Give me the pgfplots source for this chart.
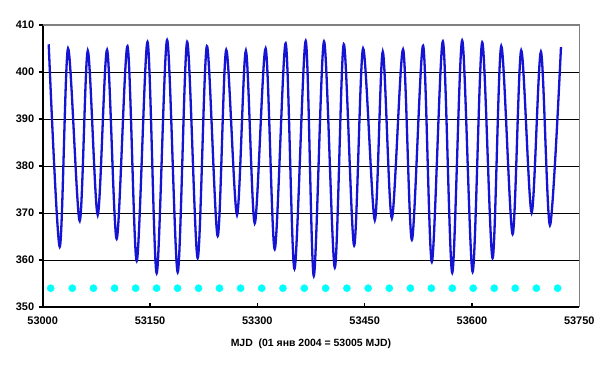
\documentclass[border=0pt]{standalone}
\usepackage{pgfplots}
\pgfplotsset{compat=1.18}
\usepackage{fontspec}
\setmainfont{Liberation Sans}
\definecolor{moonblue}{RGB}{20,20,210}
\definecolor{fmcyan}{RGB}{0,255,255}
\definecolor{boxgray}{RGB}{128,128,128}
\begin{document}
\begin{tikzpicture}
\useasboundingbox (-42.7bp,-63bp) rectangle (568.3bp,307bp);
\begin{axis}[
  scale only axis, width=536.6bp, height=282bp,
  xmin=53000, xmax=53750, ymin=350, ymax=410,
  xtick={53000,53150,53300,53450,53600,53750},
  ytick={350,360,370,380,390,400,410},
  scaled x ticks=false,
  xticklabels={53000,53150,53300,53450,53600,53750},
  axis x line*=bottom, axis y line*=left,
  axis line style={black, line width=2.2bp, -},
  ymajorgrids, grid style={black, line width=0.9bp},
  tick align=inside, major tick length=4bp,
  tick style={black, line width=1.2bp},
  y tick style={xshift=-4bp},
  /pgf/number format/assume math mode=true,
  /pgf/number format/1000 sep={},
  ticklabel style={font=\fontsize{11}{13}\selectfont\bfseries},
  yticklabel style={xshift=-5bp},
  xticklabel style={yshift=-6bp},
  xlabel={MJD\ \ (01 янв 2004 = 53005 MJD)},
  xlabel style={font=\fontsize{10.5}{12}\selectfont\bfseries, at={(axis description cs:0.5,0)}, anchor=center, yshift=-37bp},
  clip=false,
]
\addplot[moonblue, line width=2.3bp, smooth, tension=0.5] coordinates {
(53008.4,405.9)
(53023.8,362.8)
(53035.4,405.0)
(53051.7,368.3)
(53063.0,404.5)
(53076.9,369.6)
(53090.0,404.7)
(53103.4,364.5)
(53118.5,405.5)
(53131.4,359.8)
(53146.5,406.4)
(53159.3,357.2)
(53173.9,406.8)
(53188.7,357.4)
(53201.9,406.4)
(53216.6,360.4)
(53229.5,405.5)
(53244.6,365.1)
(53256.5,404.7)
(53271.6,369.6)
(53284.0,404.5)
(53296.4,367.8)
(53311.6,405.0)
(53324.3,362.3)
(53339.6,406.1)
(53351.9,358.1)
(53367.6,406.6)
(53378.9,356.6)
(53393.2,406.5)
(53408.3,358.4)
(53420.8,405.9)
(53435.3,363.1)
(53447.8,405.0)
(53464.2,368.5)
(53475.3,404.3)
(53488.0,368.9)
(53503.7,404.8)
(53516.0,364.3)
(53531.7,405.6)
(53543.9,359.6)
(53559.3,406.5)
(53572.4,357.3)
(53586.3,406.7)
(53600.9,357.5)
(53614.3,406.3)
(53628.8,360.4)
(53640.9,405.5)
(53656.8,365.5)
(53668.8,404.6)
(53683.4,370.1)
(53696.4,404.3)
(53709.0,367.4)
(53724.4,405.3)
};
\addplot[only marks, mark=*, mark size=3.6bp, fmcyan, mark options={draw=fmcyan, fill=fmcyan}] coordinates {
(53011.2,354) (53041.4,354) (53070.9,354) (53100.5,354) (53129.9,354)
(53159.2,354) (53188.5,354) (53217.8,354) (53247.1,354) (53276.6,354)
(53306.1,354) (53335.8,354) (53365.6,354) (53395.4,354) (53425.2,354)
(53454.9,354) (53484.4,354) (53513.9,354) (53543.2,354) (53572.5,354)
(53601.7,354) (53631.1,354) (53660.5,354) (53690.0,354) (53719.7,354)
};
\draw[boxgray, line width=1.1bp] (rel axis cs:0,1) -- (rel axis cs:1,1) -- (rel axis cs:1,0);
\end{axis}
\end{tikzpicture}
\end{document}
